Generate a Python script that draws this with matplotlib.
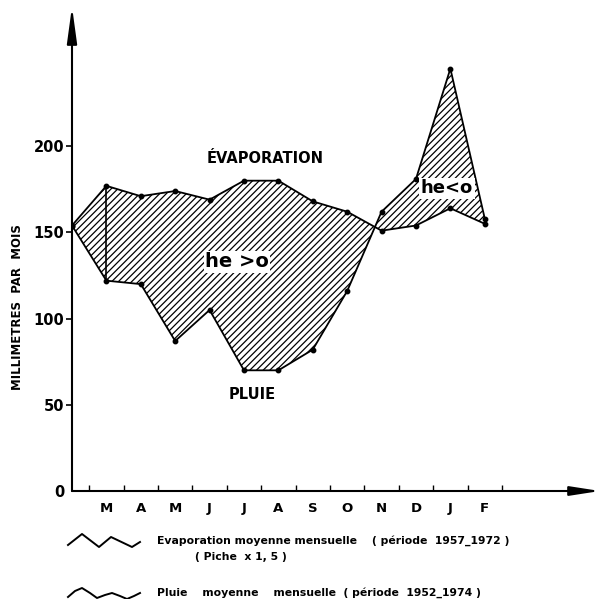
import numpy as np
import matplotlib
matplotlib.use("Agg")
import matplotlib.pyplot as plt

# mois (mars -> fevrier), premier point pose sur l'axe des y
months = ['M', 'A', 'M', 'J', 'J', 'A', 'S', 'O', 'N', 'D', 'J', 'F']
x_pos = [-1, 0, 1, 2, 3, 4, 5, 6, 7, 8, 9, 10, 11]
evaporation = [154, 177, 171, 174, 169, 180, 180, 168, 162, 151, 154, 164, 155]
pluie = [154, 122, 120, 87, 105, 70, 70, 82, 116, 162, 181, 245, 158]
y_ticks = [0, 50, 100, 150, 200]

# petits pictogrammes de la legende (pixels)
icon_evap_x = [68, 82, 99, 111, 132, 140]
icon_evap_y = [545, 534, 547, 537, 547, 542]
icon_pluie_x = [68, 75, 82, 90, 97, 105, 112, 120, 127, 134, 140]
icon_pluie_y = [597, 591, 588, 593, 598, 595, 593, 596, 599, 596, 593]

plt.rcParams['hatch.linewidth'] = 0.9
fig = plt.figure(figsize=(6, 5.99), dpi=100)
W, H = 600, 599
ax = fig.add_axes([72 / W, (H - 491) / H, (600 - 72) / W, (491 - 10) / H])
ax.set_xlim(-1, 14.35)
ax.set_ylim(0, 279)
for s in ax.spines.values():
    s.set_visible(False)

# zone hachuree entre les deux courbes
ax.fill_between(x_pos, evaporation, pluie, facecolor='white', edgecolor='black',
                hatch='/////', linewidth=0)
ax.plot(x_pos, evaporation, color='black', lw=1.3, marker='o', ms=3.2)
ax.plot(x_pos, pluie, color='black', lw=1.3, marker='o', ms=3.2)
ax.plot([x_pos[1], x_pos[1]], [evaporation[1], pluie[1]], color='black', lw=1.2)

# axes fleches
ax.annotate('', xy=(14.35, 0), xytext=(-1, 0), annotation_clip=False,
            arrowprops=dict(arrowstyle='-|>,head_length=1.8,head_width=0.28',
                            mutation_scale=10, lw=1.5, color='black',
                            shrinkA=0, shrinkB=0))
ax.annotate('', xy=(-1, 281), xytext=(-1, 0), annotation_clip=False,
            arrowprops=dict(arrowstyle='-|>,head_length=2.2,head_width=0.3',
                            mutation_scale=10, lw=1.5, color='black',
                            shrinkA=0, shrinkB=0))

ax.set_yticks(y_ticks)
ax.set_yticklabels([str(v) for v in y_ticks], fontsize=10.5, fontweight='bold')
ax.tick_params(axis='y', direction='out', length=4.5, width=1.2, pad=1)
ax.yaxis.get_major_ticks()[0].tick1line.set_visible(False)

ax.set_xticks(range(len(months)))
ax.set_xticklabels(months, fontsize=9.5, fontweight='bold')
ax.set_xticks(np.arange(-0.5, 12, 1), minor=True)
ax.tick_params(axis='x', which='major', length=0, pad=8)
ax.tick_params(axis='x', which='minor', direction='in', length=4, width=1.0)

ax.set_ylabel('MILLIMETRES  PAR  MOIS', fontsize=8.5, fontweight='bold')
ax.yaxis.set_label_coords(-(72 - 24) / 528, (491 - 307) / 481)

ax.text(4.6, 193, 'ÉVAPORATION', ha='center', va='center', fontsize=10.5,
        fontweight='bold')
ax.text(3.8, 133, 'he >o', ha='center', va='center', fontsize=14, fontweight='bold',
        bbox=dict(facecolor='white', edgecolor='none', pad=1))
ax.text(9.9, 175.5, 'he<o', ha='center', va='center', fontsize=13, fontweight='bold',
        bbox=dict(facecolor='white', edgecolor='none', pad=1))
ax.text(4.23, 56, 'PLUIE', ha='center', va='center', fontsize=10.5, fontweight='bold')

# legende en bas
lg = fig.add_axes([0, 0, 1, 1], facecolor='none')
lg.set_xlim(0, W)
lg.set_ylim(H, 0)
lg.axis('off')
lg.plot(icon_evap_x, icon_evap_y, color='black', lw=1.4)
lg.plot(icon_pluie_x, icon_pluie_y, color='black', lw=1.4, clip_on=False)
lg.text(157, 541, 'Evaporation moyenne mensuelle    ( période  1957_1972 )',
        fontsize=7.8, fontweight='bold', va='center')
lg.text(195, 557, '( Piche  x 1, 5 )', fontsize=7.8, fontweight='bold', va='center')
lg.text(157, 593, 'Pluie    moyenne    mensuelle  ( période  1952_1974 )',
        fontsize=7.8, fontweight='bold', va='center')

fig.savefig('out.png', dpi=100)
